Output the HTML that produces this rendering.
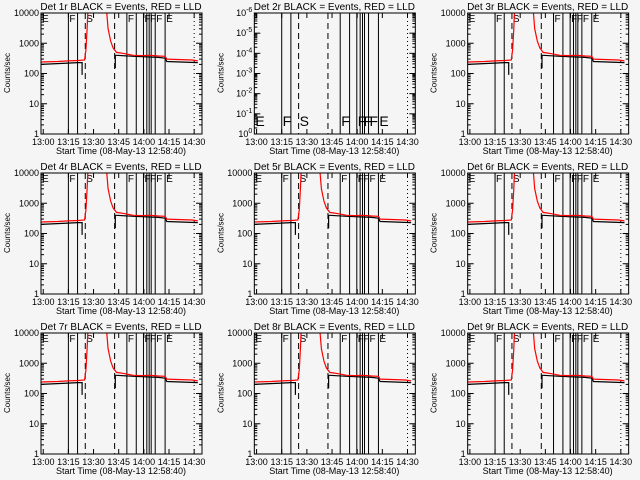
<!DOCTYPE html>
<html><head><meta charset="utf-8"><style>
body{margin:0;background:#f5f5f5;}
svg{display:block;font-family:"Liberation Sans",sans-serif;}
</style></head><body>
<svg id="c" width="640" height="480"></svg>
<script>
// minutes since 12:58:40
const redT   = [0,10,16.3,22,26,26.8,27.5,28,39,40,41.5,43,45,50,55,60,65,70,74,75,90,93.5];
const redV   = [240,250,260,270,280,600,3000,14000,14000,3000,1200,700,500,450,400,390,400,380,370,300,280,260];
const blkT1  = [0,16,22,24.5,24.5];
const blkV1  = [200,220,230,230,90];
const blkT2  = [44.3,44.3,45,55,65,70,74,75,93.5];
const blkV2  = [150,400,400,370,350,340,320,250,230];
const solidLines  = [16.33,21.8,51.2,56.8,61.1,63.1,64.5,65.7,68.1,74];
const dashedLines = [26.4,43.9];
const dottedLines = [91.33];
const markT = [0,16.3,26.4,51.2,61.1,64.5,68.1,74];
const markL = ['E','F','S','F','F','F','F','E'];
const xTickT = [1.33,16.33,31.33,46.33,61.33,76.33,91.33];
const xTickL = ['13:00','13:15','13:30','13:45','14:00','14:15','14:30'];
const yTickV = [1,10,100,1000,10000];
const yTickL = ['1','10','100','1000','10000'];
const NS='http://www.w3.org/2000/svg';
const svg=document.getElementById('c');
function mk(tag,at,parent){const e=document.createElementNS(NS,tag);for(const k in at)e.setAttribute(k,at[k]);(parent||svg).appendChild(e);return e;}
for(let i=0;i<9;i++){
  const col=i%3,row=Math.floor(i/3);
  const ox=col*213.33,oy=row*160;
  const L=ox+41,R=ox+202,T=oy+13,B=oy+134;
  const g=mk('g',{});
  
  
  const x=t=>L+(t)*(R-L)/96;
  const empty=(i===1);
  const y=v=>empty?B:B-Math.log10(v)*(B-T)/4;
  const cid='clip'+i;
  const cp=mk('clipPath',{id:cid},g);mk('rect',{x:L,y:T,width:R-L,height:B-T},cp);
  const t=mk('text',{x:ox+121,y:oy+10,'text-anchor':'middle','font-size':10},g);
  t.textContent='Det '+(i+1)+'r BLACK = Events, RED = LLD';
  
  
  const xt=mk('text',{x:ox+121,y:oy+154,'text-anchor':'middle','font-size':9},g);
  xt.textContent='Start Time (08-May-13 12:58:40)';
  
  
  const yt=mk('text',{x:0,y:0,'text-anchor':'middle','font-size':8,transform:`translate(${ox+10},${oy+73}) rotate(-90)`},g);
  yt.textContent='Counts/sec';
  
  
  const vl=mk('g',{'clip-path':`url(#${cid})`,stroke:'#000','stroke-width':1},g);
  
  
  solidLines.forEach(tt=>mk('line',{x1:x(tt),x2:x(tt),y1:T,y2:B},vl));
  dashedLines.forEach(tt=>mk('line',{x1:x(tt),x2:x(tt),y1:T,y2:B,'stroke-dasharray':'6,4'},vl));
  dottedLines.forEach(tt=>mk('line',{x1:x(tt),x2:x(tt),y1:T,y2:B,'stroke-dasharray':'1,3'},vl));
  markT.forEach((tt,k)=>{const m=mk('text',{x:x(tt)+1,y:empty?B-8:T+9,'font-size':empty?14:10},g);m.textContent=markL[k];
    
    });
  if(!empty){
    const pts=(ts,vs)=>ts.map((tt,k)=>x(tt).toFixed(1)+','+y(vs[k]).toFixed(1)).join(' ');
    const b1=mk('polyline',{points:pts(blkT1,blkV1),fill:'none',stroke:'#000','stroke-width':1.2,'clip-path':`url(#${cid})`},g);
    
    
    const b2=mk('polyline',{points:pts(blkT2,blkV2),fill:'none',stroke:'#000','stroke-width':1.2,'clip-path':`url(#${cid})`},g);
    
    
    const r=mk('polyline',{points:pts(redT,redV),fill:'none',stroke:'#f00','stroke-width':1.2,'clip-path':`url(#${cid})`},g);
    
    
  }
  mk('rect',{x:L,y:T,width:R-L,height:B-T,fill:'none',stroke:'#000'},g);
  xTickT.forEach((tt,k)=>{const xx=x(tt);
    mk('line',{x1:xx,x2:xx,y1:B,y2:B-5,stroke:'#000'},g);mk('line',{x1:xx,x2:xx,y1:T,y2:T+5,stroke:'#000'},g);
    const l=mk('text',{x:xx,y:oy+145,'text-anchor':'middle','font-size':9},g);l.textContent=xTickL[k];
    
    });
  const dec=empty?6:4;
  for(let d=0;d<=dec;d++){
    const yy=B-d*(B-T)/dec;
    mk('line',{x1:L,x2:L+6,y1:yy,y2:yy,stroke:'#000'},g);mk('line',{x1:R,x2:R-6,y1:yy,y2:yy,stroke:'#000'},g);
    if(d<dec)for(let m=2;m<10;m++){const ym=yy-Math.log10(m)*(B-T)/dec;
      mk('line',{x1:L,x2:L+3,y1:ym,y2:ym,stroke:'#000'},g);mk('line',{x1:R,x2:R-3,y1:ym,y2:ym,stroke:'#000'},g);}
    const l=mk('text',{x:L-2,y:yy+3,'text-anchor':'end','font-size':9},g);
    if(empty){l.textContent='10';const s=mk('tspan',{dy:-4,'font-size':7},l);s.textContent=d===0?'0':'-'+d;}
    else l.textContent=yTickL[d];
    
    
  }
}
</script>
</body></html>
